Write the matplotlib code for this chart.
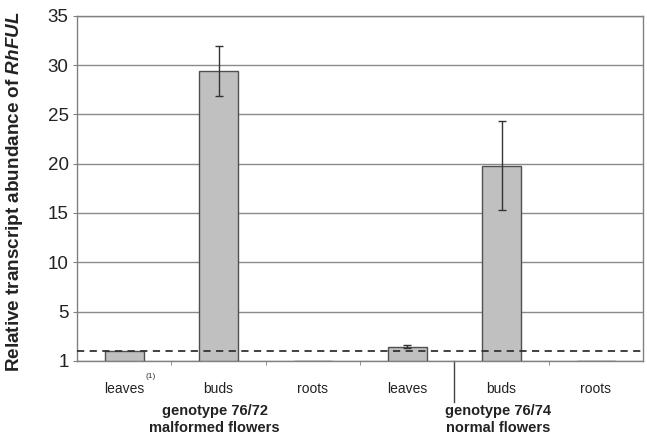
import matplotlib
matplotlib.use("Agg")
import matplotlib.pyplot as plt
import matplotlib.transforms as mtransforms

plt.rcParams['font.family'] = ['Liberation Sans', 'DejaVu Sans']
plt.rcParams['mathtext.fontset'] = 'custom'
plt.rcParams['mathtext.it'] = 'Liberation Sans:bold:italic'
plt.rcParams['mathtext.rm'] = 'Liberation Sans:bold'

categories = ["leaves", "buds", "roots", "leaves", "buds", "roots"]
values = [1.0, 29.4, 0.03, 1.45, 19.8, 0.03]
err_low = [0.0, 2.5, 0.0, 0.12, 4.45, 0.0]
err_high = [0.0, 2.5, 0.0, 0.12, 4.5, 0.0]
groups = ["genotype 76/72\nmalformed flowers", "genotype 76/74\nnormal flowers"]
yticks = [0, 5, 10, 15, 20, 25, 30, 35]
ytick_labels = ["1", "5", "10", "15", "20", "25", "30", "35"]
reference_level = 1.05

fig = plt.figure(figsize=(6.47, 4.38), dpi=100)
ax = fig.add_axes([0.119, 0.176, 0.875, 0.788])

x = list(range(len(categories)))
ax.bar(x, values, width=0.41, color="#c0c0c0", edgecolor="#505050", linewidth=1.0, zorder=3)
idx = [i for i in range(len(values)) if err_high[i] > 0]
ax.errorbar([x[i] for i in idx], [values[i] for i in idx],
            yerr=[[err_low[i] for i in idx], [err_high[i] for i in idx]],
            fmt="none", ecolor="#333333", elinewidth=1.0, capsize=3, capthick=1.0, zorder=4)

ax.axhline(reference_level, color="#333333", lw=1.3, dashes=(4, 3), zorder=5)

ax.set_xlim(-0.5, 5.5)
ax.set_ylim(0, 35)
ax.set_yticks(yticks)
ax.set_yticklabels(ytick_labels, fontsize=13.5, color="#222222")
ax.yaxis.grid(True, color="#8a8a8a", lw=1.0, zorder=0)
ax.set_axisbelow(True)
ax.tick_params(axis="y", length=3, color="#808080", pad=3)

ax.set_xticks(x)
ax.set_xticklabels(categories, fontsize=10, color="#222222")
ax.tick_params(axis="x", which="major", length=0, pad=15)
ax.set_xticks([0.5, 1.5, 2.5, 4.5], minor=True)
ax.tick_params(axis="x", which="minor", length=3, color="#808080")

for s in ax.spines.values():
    s.set_color("#808080")
    s.set_linewidth(1.0)

ax.set_ylabel("Relative transcript abundance of $\\mathit{RhFUL}$", fontsize=13.6,
              fontweight="bold", color="#222222")
ax.yaxis.set_label_coords(-0.092, 0.49)

trans = mtransforms.blended_transform_factory(ax.transData, ax.transAxes)
ax.plot([3.5, 3.5], [0, -0.12], transform=trans, color="#444444", lw=1.0, clip_on=False)
ax.text(0.23, -0.035, "(1)", transform=trans, fontsize=6, ha="left", va="top", color="#333333")

for gi, g in enumerate(groups):
    ax.text(1 + 3 * gi - 0.04, -0.125, g, transform=trans, ha="center", va="top", fontsize=10.5,
            fontweight="bold", color="#222222", linespacing=1.3)

fig.savefig("out.png", dpi=100)
